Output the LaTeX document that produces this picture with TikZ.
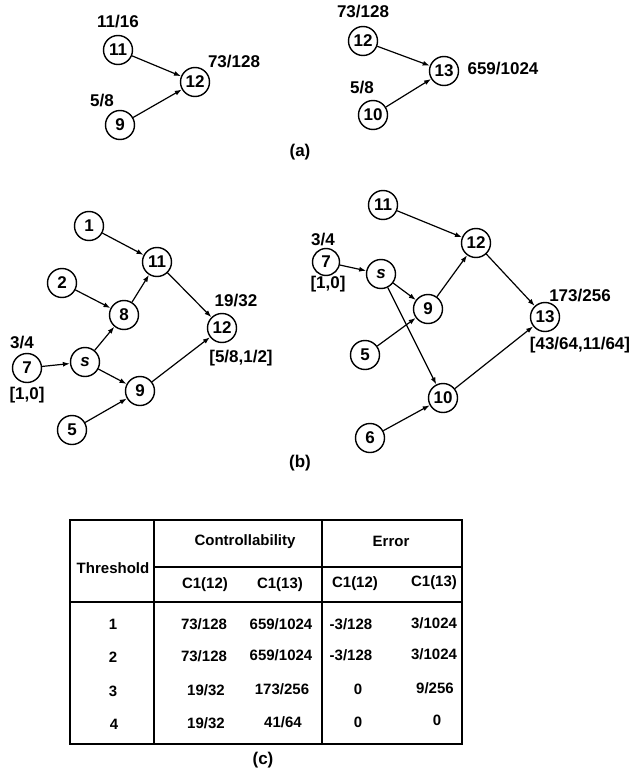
\documentclass[tikz,border=0pt]{standalone}
\usepackage{fontspec}
\setmainfont{Liberation Sans}
\usetikzlibrary{arrows.meta}
\begin{document}
\begin{tikzpicture}[x=1pt,y=-1pt,
  vx/.style={circle,draw,line width=1.4pt,minimum size=29pt,inner sep=0pt,font=\fontsize{17}{19}\selectfont\bfseries},
  lbl/.style={font=\fontsize{17}{19}\selectfont\bfseries,inner sep=0pt},
  tx/.style={font=\fontsize{15}{17}\selectfont\bfseries,inner sep=0pt},
  ed/.style={line width=1.2pt,-{Latex[length=7pt,width=5pt]}},
  tl/.style={line width=1.6pt}]
\useasboundingbox (0,0) rectangle (637,773);
% (a) left
\node[vx] (a11) at (118,50) {11};
\node[vx] (a12) at (195,82) {12};
\node[vx] (a9) at (120,125) {9};
\node[lbl] (la11) at (118,22) {11/16};
\node[lbl] (la12) at (234,62) {73/128};
\node[lbl] (la9) at (102,101) {5/8};
\draw[ed] (a11) -- (a12);
\draw[ed] (a9) -- (a12);
% (a) right
\node[vx] (b12) at (363,41) {12};
\node[vx] (b13) at (444,71) {13};
\node[vx] (b10) at (373,115) {10};
\node[lbl] (lb12) at (363,12) {73/128};
\node[lbl] (lb13) at (503,69) {659/1024};
\node[lbl] (lb10) at (362,88) {5/8};
\draw[ed] (b12) -- (b13);
\draw[ed] (b10) -- (b13);
\node[lbl] (capa) at (300,152) {(a)};
% (b) left
\node[vx] (c1) at (89,226) {1};
\node[vx] (c11) at (157,262) {11};
\node[vx] (c2) at (62,283) {2};
\node[vx] (c8) at (124,315) {8};
\node[vx] (c12) at (222,328) {12};
\node[vx] (c7) at (27,368) {7};
\node[vx] (cs) at (85,362) {\textit{s}};
\node[vx] (c9) at (140,391) {9};
\node[vx] (c5) at (72,430) {5};
\node[lbl] (lc12a) at (236,301) {19/32};
\node[lbl] (lc12b) at (241,358) {[5/8,1/2]};
\node[lbl] (lc7a) at (22,343) {3/4};
\node[lbl] (lc7b) at (27,395) {[1,0]};
\draw[ed] (c1) -- (c11);
\draw[ed] (c2) -- (c8);
\draw[ed] (c8) -- (c11);
\draw[ed] (c11) -- (c12);
\draw[ed] (c7) -- (cs);
\draw[ed] (cs) -- (c8);
\draw[ed] (cs) -- (c9);
\draw[ed] (c5) -- (c9);
\draw[ed] (c9) -- (c12);
% (b) right
\node[vx] (d11) at (383,205) {11};
\node[vx] (d12) at (476,243) {12};
\node[vx,minimum size=27pt] (d7) at (326,262) {7};
\node[vx] (ds) at (381,274) {\textit{s}};
\node[vx] (d9) at (428,309) {9};
\node[vx] (d13) at (545,317) {13};
\node[vx] (d5) at (365,355) {5};
\node[vx] (d10) at (443,398) {10};
\node[vx] (d6) at (370,438) {6};
\node[lbl] (ld7a) at (323,240) {3/4};
\node[lbl] (ld7b) at (328,284) {[1,0]};
\node[lbl] (ld13a) at (580,296) {173/256};
\node[lbl] (ld13b) at (580,345) {[43/64,11/64]};
\draw[ed] (d11) -- (d12);
\draw[ed] (d7) -- (ds);
\draw[ed] (ds) -- (d9);
\draw[ed] (ds) -- (d10);
\draw[ed] (d9) -- (d12);
\draw[ed] (d5) -- (d9);
\draw[ed] (d12) -- (d13);
\draw[ed] (d10) -- (d13);
\draw[ed] (d6) -- (d10);
\node[lbl] (capb) at (300,463) {(b)};
% (c) table
\draw[tl] (70,520) rectangle (462,744);
\draw[tl] (154,520) -- (154,744);
\draw[tl] (322,520) -- (322,744);
\draw[tl] (154,567) -- (462,567);
\draw[tl] (70,602) -- (462,602);
\node[tx] (th) at (113,568) {Threshold};
\node[tx] (hc) at (245,542) {Controllability};
\node[tx] (he) at (391,541) {Error};
\node[tx] (h1) at (205,585) {C1(12)};
\node[tx] (h2) at (280,585) {C1(13)};
\node[tx] (h3) at (355,584) {C1(12)};
\node[tx] (h4) at (434,583) {C1(13)};
\node[tx] (r1a) at (113,624) {1};
\node[tx] (r1b) at (204,624) {73/128};
\node[tx] (r1c) at (281,624) {659/1024};
\node[tx] (r1d) at (351,624) {-3/128};
\node[tx] (r1e) at (434,623) {3/1024};
\node[tx] (r2a) at (113,657) {2};
\node[tx] (r2b) at (204,656) {73/128};
\node[tx] (r2c) at (281,655) {659/1024};
\node[tx] (r2d) at (351,655) {-3/128};
\node[tx] (r2e) at (434,654) {3/1024};
\node[tx] (r3a) at (113,691) {3};
\node[tx] (r3b) at (206,690) {19/32};
\node[tx] (r3c) at (282,689) {173/256};
\node[tx] (r3d) at (358,689) {0};
\node[tx] (r3e) at (435,688) {9/256};
\node[tx] (r4a) at (114,724) {4};
\node[tx] (r4b) at (206,723) {19/32};
\node[tx] (r4c) at (283,722) {41/64};
\node[tx] (r4d) at (358,722) {0};
\node[tx] (r4e) at (437,720) {0};
\node[lbl] (capc) at (263,760) {(c)};
\end{tikzpicture}
\end{document}
